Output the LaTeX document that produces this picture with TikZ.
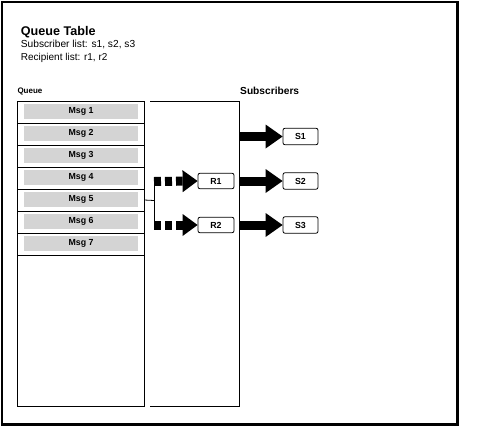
\documentclass[tikz,border=0pt]{standalone}
\usepackage{fontspec}
\setmainfont{Liberation Sans}
\usetikzlibrary{arrows.meta}
\definecolor{bargray}{RGB}{212,212,212}
\tikzset{
  lbl/.style={inner sep=0pt, anchor=base west},
  rowbox/.style={draw, line width=0.8pt, minimum width=127pt, minimum height=22pt, inner sep=0pt},
  msgbar/.style={fill=bargray, minimum width=114pt, minimum height=15pt, inner sep=0pt, font=\bfseries\fontsize{8.8}{10}\selectfont},
  rbox/.style={draw, line width=0.8pt, rounded corners=2pt, minimum width=36pt, minimum height=15.5pt, inner sep=0pt, font=\bfseries\fontsize{8.8}{10}\selectfont},
  sbox/.style={draw, line width=0.8pt, rounded corners=2pt, minimum width=35pt, minimum height=16.5pt, inner sep=0pt, font=\bfseries\fontsize{8.8}{10}\selectfont},
  dasharrow/.style={line width=9pt, dash pattern=on 7pt off 4pt, -{Triangle[length=15pt,width=22pt,line width=0pt]}},
  bigarrow/.style={line width=9pt, -{Triangle[length=17pt,width=24pt,line width=0pt]}},
  thin/.style={line width=0.8pt}
}
\begin{document}
\begin{tikzpicture}[x=1pt,y=-1pt]
\useasboundingbox (0,0) rectangle (496,432);
% outer frame
\draw[line width=2.5pt] (2.2,1.9) rectangle (457.5,424.5);
% header texts
\node[lbl, font=\bfseries\fontsize{12.6}{14}\selectfont] (title) at (20.7,35) {Queue Table};
\node[lbl, font=\fontsize{10.2}{12}\selectfont] (sublist) at (20.7,47.3) {Subscriber list: s1, s2, s3};
\node[lbl, font=\fontsize{10}{12}\selectfont] (reclist) at (20.7,60.3) {Recipient list: r1, r2};
\node[lbl, font=\bfseries\fontsize{8}{10}\selectfont] (qlabel) at (17.3,93.3) {Queue};
\node[lbl, font=\bfseries\fontsize{10.2}{12}\selectfont] (slabel) at (240,94) {Subscribers};
% queue box
\node[draw, thin, minimum width=127pt, minimum height=305pt, inner sep=0pt, anchor=north west] (queue) at (17,101) {};
\foreach \i in {1,...,7} {
  \node[rowbox] (row\i) at (80.5,{112+22*(\i-1)}) {};
  \node[msgbar] (msg\i) at (81,{111.5+22*(\i-1)}) {Msg \i};
}
% right box (open on left side)
\draw[thin] (150,101) -- (239,101) -- (239,406) -- (150,406);
% junction
\coordinate (jmid) at (154,200.5);
\coordinate (jtop) at (154,177);
\coordinate (jbot) at (154,223);
\draw[thin] (row5.east) -- (jmid);
\draw[thin] (jtop) -- (jbot);
% recipients
\node[rbox] (R1) at (216,181) {R1};
\node[rbox] (R2) at (216,225) {R2};
\coordinate (d1) at (154,181.5);
\coordinate (d2) at (154,225);
\draw[dasharrow] (d1) -- (R1.west);
\draw[dasharrow] (d2) -- (R2.west);
% subscribers
\node[sbox] (S1) at (300.5,136.5) {S1};
\node[sbox] (S2) at (300.5,181) {S2};
\node[sbox] (S3) at (300.5,225) {S3};
\coordinate (b1) at (239.4,136.5);
\coordinate (b2) at (239.4,181);
\coordinate (b3) at (239.4,225);
\draw[bigarrow] (b1) -- (S1.west);
\draw[bigarrow] (b2) -- (S2.west);
\draw[bigarrow] (b3) -- (S3.west);
\end{tikzpicture}
\end{document}
